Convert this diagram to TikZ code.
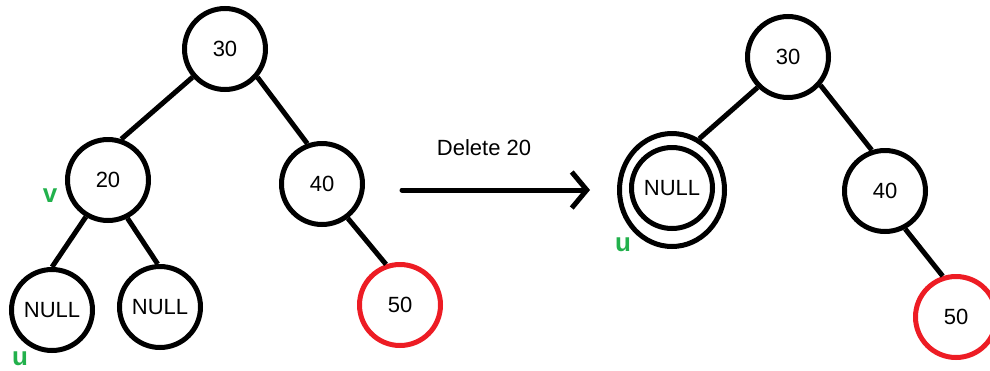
\documentclass[tikz,border=0pt]{standalone}
\usepackage{fontspec}
\setmainfont{Liberation Sans}
\usetikzlibrary{arrows.meta,shapes.geometric}
\definecolor{pgreen}{RGB}{34,177,76}
\definecolor{pred}{RGB}{237,28,36}
\tikzset{
  tnode/.style={circle,draw=black,line width=5pt,minimum size=81pt,inner sep=0pt,font=\fontsize{22}{26}\selectfont},
  rnode/.style={tnode,draw=pred},
  edge/.style={line width=5pt},
  lbl/.style={text=pgreen,font=\fontsize{26}{30}\selectfont\bfseries,inner sep=0pt},
}
\begin{document}
\begin{tikzpicture}[x=1pt,y=-1pt]
\useasboundingbox (0,0) rectangle (990,370);
% left tree
\node[tnode] (a30) at (225,49) {30};
\node[tnode] (a20) at (108,180) {20};
\node[tnode] (a40) at (322,184) {40};
\node[tnode] (an1) at (52,310) {NULL};
\node[tnode] (an2) at (160,307) {NULL};
\node[rnode] (a50) at (400,305) {50};
\draw[edge] (a30.221) -- (a20.72);
\draw[edge] (a30.319) -- (a40.110);
\draw[edge] (a20.239) -- (an1.90);
\draw[edge] (a20.297) -- (an2.93);
\draw[edge] (a40.307) -- (a50.109);
\node[lbl] (v) at (50,196) {v};
\node[lbl] (u1) at (20,359) {u};
% arrow
\coordinate (s) at (402,190);
\coordinate (e) at (590,190);
\draw[edge,line cap=round,-{Straight Barb[length=15pt,width=36pt,line width=5pt]}] (s) -- (e);
\node[font=\fontsize{22}{26}\selectfont] (del) at (484,148) {Delete 20};
% right tree
\node[tnode] (b30) at (788,57) {30};
\node[ellipse,draw=black,line width=5pt,minimum width=105pt,minimum height=113pt] (bno) at (672,190) {};
\node[tnode] (bn) at (672,188) {NULL};
\node[tnode] (b40) at (885,191) {40};
\node[rnode] (b50) at (956,317) {50};
\draw[edge] (b30.225) -- (bno.62);
\draw[edge] (b30.319) -- (b40.108);
\draw[edge] (b40.298) -- (b50.108);
\node[lbl] (u2) at (623,245) {u};
\end{tikzpicture}
\end{document}
